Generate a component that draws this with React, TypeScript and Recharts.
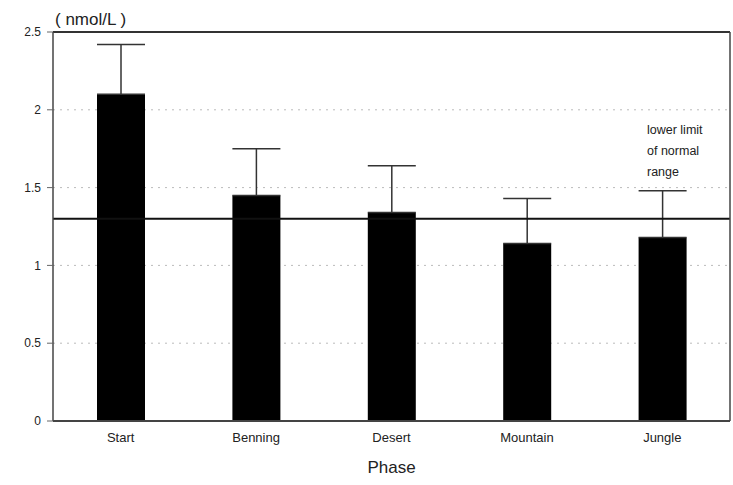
import { ComposedChart, Bar, Line, XAxis, YAxis, CartesianGrid, ErrorBar, ReferenceLine, Label } from "recharts";

const phases = ["Start", "Benning", "Desert", "Mountain", "Jungle"];
const means = [2.1, 1.45, 1.34, 1.14, 1.18];
const sdUpper = [0.32, 0.3, 0.3, 0.29, 0.3];
const yTicks = [0, 0.5, 1, 1.5, 2, 2.5];
const lowerLimit = 1.3;

const data = phases.map((phase, i) => ({
  phase,
  value: means[i],
  err: [0, sdUpper[i]],
}));

const FONT = "'Liberation Sans', Arial, sans-serif";
const INK = "#222";

export default function App() {
  // pinned to the viewport so the page never grows scrollbars
  return (
    <div style={{ position: "fixed", left: 0, top: 0, width: 733, height: 485, fontFamily: FONT, background: "#fff" }}>
      <ComposedChart
        width={733}
        height={485}
        data={data}
        margin={{ top: 32, right: 0, bottom: 8, left: 8 }}
        barCategoryGap={0}
      >
        <CartesianGrid vertical={false} stroke="#bbb" strokeDasharray="2 5" />
        <XAxis
          dataKey="phase"
          height={56}
          tickLine={false}
          axisLine={{ stroke: "#444", strokeWidth: 2 }}
          tick={{ fill: INK, fontSize: 13, fontFamily: FONT }}
          tickMargin={6}
        >
          <Label value="Phase" position="insideBottom" offset={4} fill={INK} fontSize={17} fontFamily={FONT} />
        </XAxis>
        <YAxis
          width={45}
          domain={[0, 2.5]}
          ticks={yTicks}
          interval={0}
          tickSize={6}
          tickMargin={6}
          axisLine={{ stroke: "#444", strokeWidth: 1.5 }}
          tickLine={{ stroke: "#666" }}
          tick={{ fill: INK, fontSize: 12, fontFamily: FONT }}
        />
        {/* right edge of the frame */}
        <YAxis
          yAxisId="frame"
          orientation="right"
          width={3}
          domain={[0, 2.5]}
          tick={false}
          tickLine={false}
          axisLine={{ stroke: "#444", strokeWidth: 1.5 }}
        />
        <ReferenceLine y={2.5} stroke="#333" strokeWidth={2} />
        <Bar dataKey="value" fill="#000" barSize={48} isAnimationActive={false}>
          <ErrorBar dataKey="err" width={24} stroke="#333" strokeWidth={1.5} direction="y" />
        </Bar>
        <Line yAxisId="frame" dataKey="value" stroke="none" dot={false} activeDot={false} isAnimationActive={false} />
        <ReferenceLine y={lowerLimit} stroke="#111" strokeWidth={2} />
      </ComposedChart>
      <div style={{ position: "absolute", left: 55, top: 10, fontSize: 17, color: INK }}>( nmol/L )</div>
      <div style={{ position: "absolute", left: 647, top: 120, fontSize: 12.5, lineHeight: "21px", color: INK }}>
        lower limit
        <br />
        of normal
        <br />
        range
      </div>
    </div>
  );
}
